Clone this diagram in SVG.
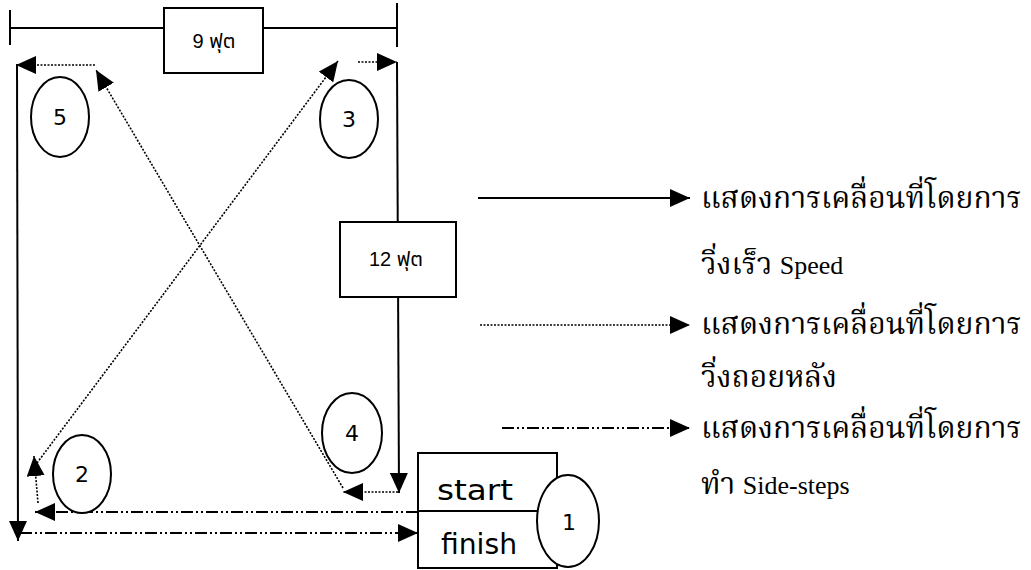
<svg xmlns="http://www.w3.org/2000/svg" width="1031" height="570" viewBox="0 0 1031 570">
<style>
.bg{fill:#fff}
.solid{fill:none;stroke:#000;stroke-width:2}
.dot{fill:none;stroke:#000;stroke-width:1.6;stroke-dasharray:2 1.5}
.dd{fill:none;stroke:#000;stroke-width:2;stroke-dasharray:12 3 2 3 2 3}
.node{fill:#fff;stroke:#000;stroke-width:2}
.lbl{font-family:"Liberation Sans",Arial,"Noto Sans Thai","Loma","Garuda",sans-serif;font-size:20px;fill:#000}
.num{font-family:"DejaVu Sans","Liberation Sans",sans-serif;font-size:22px;fill:#000}
.sf{font-family:"DejaVu Sans","Liberation Sans",sans-serif;font-size:28px;fill:#000}
.leg{font-family:"Liberation Serif","Noto Serif Thai","Norasi","Noto Sans Thai",serif;font-size:30px;fill:#000}
.lat{font-size:26px}
</style>
<defs>
<marker id="ah" markerUnits="userSpaceOnUse" markerWidth="20" markerHeight="18" refX="20" refY="9" orient="auto" viewBox="0 0 20 18">
<path d="M0,0 L20,9 L0,18 z" fill="#000"/>
</marker>
</defs>
<rect class="bg" width="1031" height="570"/>
<g id="connectors">
<line class="solid" x1="10" y1="28" x2="164" y2="28"/>
<line class="solid" x1="263" y1="28" x2="397" y2="28"/>
<line class="solid" x1="10" y1="10" x2="10" y2="45"/>
<line class="solid" x1="397" y1="3" x2="397" y2="47"/>
<line class="solid" x1="17" y1="64" x2="18" y2="541" marker-end="url(#ah)"/>
<line class="solid" x1="397" y1="62" x2="399" y2="493" marker-end="url(#ah)"/>
<line class="dot" x1="358" y1="62" x2="397" y2="62" marker-end="url(#ah)"/>
<line class="dot" x1="37" y1="463" x2="338" y2="61" marker-end="url(#ah)"/>
<line class="dot" x1="343" y1="488" x2="96" y2="70" marker-end="url(#ah)"/>
<line class="dot" x1="95" y1="65" x2="16" y2="65" marker-end="url(#ah)"/>
<line class="dot" x1="398" y1="492" x2="343" y2="492" marker-end="url(#ah)"/>
<line class="dot" x1="38" y1="503" x2="34" y2="456" marker-end="url(#ah)"/>
<line class="dd" x1="418" y1="512" x2="35" y2="512" marker-end="url(#ah)"/>
<line class="dd" x1="20" y1="533" x2="418" y2="533" marker-end="url(#ah)"/>
<line class="solid" x1="478" y1="198" x2="690" y2="198" marker-end="url(#ah)"/>
<line class="dot" x1="480" y1="325" x2="690" y2="325" marker-end="url(#ah)"/>
<line class="dd" x1="502" y1="428" x2="690" y2="428" marker-end="url(#ah)"/>
</g>
<g id="dim9">
<rect class="node" x="164" y="8" width="99" height="65"/>
<text class="lbl" x="214" y="48" text-anchor="middle">9 ฟุต</text>
</g>
<g id="dim12">
<rect class="node" x="340" y="222" width="116" height="75"/>
<text class="lbl" x="396" y="266" text-anchor="middle">12 ฟุต</text>
</g>
<g id="n5">
<ellipse class="node" cx="60" cy="117" rx="29" ry="40"/>
<text class="num" x="60" y="125" text-anchor="middle">5</text>
</g>
<g id="n3">
<ellipse class="node" cx="349" cy="119" rx="29" ry="39"/>
<text class="num" x="349" y="127" text-anchor="middle">3</text>
</g>
<g id="n4">
<ellipse class="node" cx="352" cy="433" rx="30" ry="40"/>
<text class="num" x="352" y="441" text-anchor="middle">4</text>
</g>
<g id="n2">
<ellipse class="node" cx="82" cy="474" rx="29" ry="39"/>
<text class="num" x="82" y="482" text-anchor="middle">2</text>
</g>
<g id="startfinish">
<rect class="node" x="418" y="453" width="139" height="115"/>
<line class="solid" x1="418" y1="511" x2="557" y2="511"/>
<text class="sf" x="437" y="500" textLength="76" lengthAdjust="spacingAndGlyphs">start</text>
<text class="sf" x="441" y="554" textLength="76" lengthAdjust="spacingAndGlyphs">finish</text>
</g>
<g id="n1">
<ellipse class="node" cx="568" cy="521" rx="31" ry="46"/>
<text class="num" x="569" y="530" text-anchor="middle">1</text>
</g>
<g id="legend">
<text class="leg" x="701" y="208">แสดงการเคลื่อนที่โดยการ</text>
<text class="leg" x="701" y="274">วิ่งเร็ว  <tspan class="lat">Speed</tspan></text>
<text class="leg" x="701" y="334">แสดงการเคลื่อนที่โดยการ</text>
<text class="leg" x="701" y="387">วิ่งถอยหลัง</text>
<text class="leg" x="701" y="438">แสดงการเคลื่อนที่โดยการ</text>
<text class="leg" x="701" y="494">ทำ <tspan class="lat">Side-steps</tspan></text>
</g>
</svg>
